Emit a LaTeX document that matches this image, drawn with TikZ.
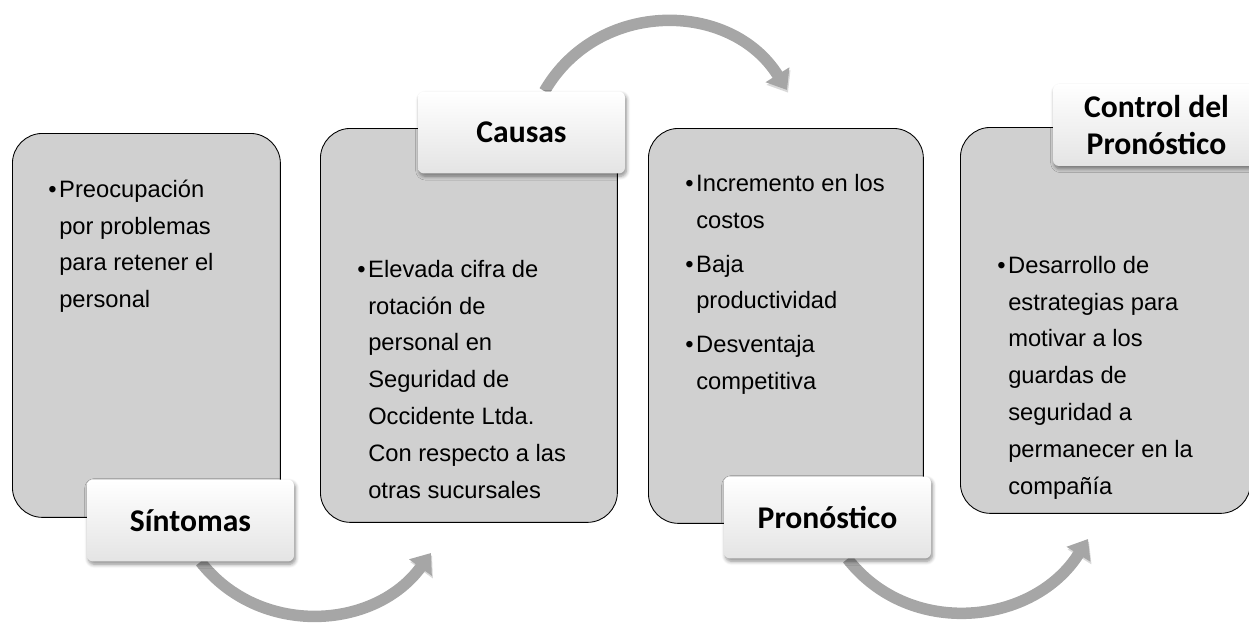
\documentclass[tikz,border=0pt]{standalone}
\usepackage{fontspec}
\setmainfont{Liberation Sans}
\newfontfamily\tagfamily{Carlito}
\usetikzlibrary{arrows.meta,shadows.blur,calc}

\definecolor{panelgray}{RGB}{208,208,208}
\definecolor{flowgray}{RGB}{166,166,166}
\definecolor{tagbottom}{RGB}{228,228,228}

\pgfdeclarelayer{background}
\pgfsetlayers{background,main}

\newcommand{\bul}{\makebox[0.46em][l]{•}}
\newcommand{\ind}{\hspace*{0.46em}}

\tikzset{
    panel/.style={draw=black, line width=0.5pt, fill=panelgray, rounded corners=0.6cm, anchor=north west, inner sep=0pt},
    notes/.style={anchor=north west, align=left, inner sep=0pt, font=\fontsize{13.5}{21}\selectfont},
    tag/.style={rounded corners=0.12cm, top color=white, bottom color=tagbottom,
        blur shadow={shadow xshift=0.8pt, shadow yshift=-1.6pt, shadow blur steps=6, shadow opacity=45},
        minimum width=4.14cm, minimum height=1.64cm, align=center, inner sep=0pt,
        font=\tagfamily\bfseries\fontsize{18}{21}\selectfont},
    flow/.style={line width=0.23cm, draw=flowgray, -{Triangle[width=0.54cm,length=0.36cm]},
        preaction={draw=black!15, transform canvas={xshift=0.6pt, yshift=-1.5pt}}},
}

\begin{document}
\begin{tikzpicture}[x=0.02cm, y=-0.02cm]
    \useasboundingbox (0,0) rectangle (1249,629);

    % grey panels
    \node[panel, minimum width=5.36cm, minimum height=7.68cm] (sintbox) at (12,133) {};
    \node[panel, minimum width=5.94cm, minimum height=7.88cm] (causbox) at (320,128) {};
    \node[panel, minimum width=5.50cm, minimum height=7.90cm] (pronbox) at (648,128) {};
    \node[panel, minimum width=5.80cm, minimum height=7.72cm] (ctrlbox) at (960,127) {};

    % bullet texts
    \node[notes] (sinttext) at (48,171) {\strut\bul Preocupación\\\ind por problemas\\\ind para retener el\\\ind personal};
    \node[notes] (caustext) at (357,251) {\strut\bul Elevada cifra de\\\ind rotación de\\\ind personal en\\\ind Seguridad de\\\ind Occidente Ltda.\\\ind Con respecto a las\\\ind otras sucursales};
    \node[notes] (prontext) at (685,165) {\strut\bul Incremento en los\\\ind costos\\[4pt]\bul Baja\\\ind productividad\\[4pt]\bul Desventaja\\\ind competitiva};
    \node[notes] (ctrltext) at (997,247) {\strut\bul Desarrollo de\\\ind estrategias para\\\ind motivar a los\\\ind guardas de\\\ind seguridad a\\\ind permanecer en la\\\ind compañía};

    % labels
    \node[tag] (sint) at (190.5,520.5) {Síntomas};
    \node[tag] (caus) at (521.5,132.5) {Causas};
    \node[tag] (pron) at (827.5,517.5) {Pronóstico};
    \node[tag] (ctrl) at (1156.5,125) {Control del\\Pronóstico};

    % curved arrows
    \begin{pgfonlayer}{background}
        \coordinate (causin) at (431,553);
        \coordinate (pronin) at (787,90);
        \coordinate (ctrlin) at (1088,539);
        \draw[flow] ($(sint.south)+(10,0)$) to[out=-52, in=-126, looseness=1.06] (causin);
        \draw[flow] ($(caus.north)+(23,0)$) to[out=60, in=122, looseness=1.12] (pronin);
        \draw[flow] ($(pron.south)+(20,0)$) to[out=-52, in=-122, looseness=1.08] (ctrlin);
    \end{pgfonlayer}
\end{tikzpicture}
\end{document}
